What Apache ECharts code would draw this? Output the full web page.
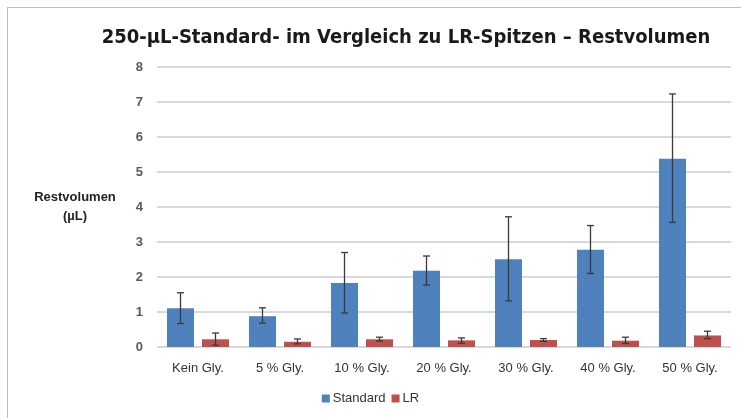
<!DOCTYPE html>
<html>
<head>
<meta charset="utf-8">
<script src="https://cdn.jsdelivr.net/npm/echarts@6/dist/echarts.min.js"></script>
<style>
  html, body { margin: 0; padding: 0; background: #fff; }
  #frame { position: absolute; left: 7px; top: 7px; width: 760px; height: 440px; border: 1px solid #bfbfbf; box-sizing: border-box; }
  #chart { position: absolute; left: 0; top: 0; width: 741px; height: 418px; }
</style>
</head>
<body>
<div id="frame"></div>
<div id="chart"></div>
<script>
// Kategorien und Werte
const categories = ['Kein Gly.', '5 % Gly.', '10 % Gly.', '20 % Gly.', '30 % Gly.', '40 % Gly.', '50 % Gly.'];
const standardVals = [1.11, 0.88, 1.83, 2.18, 2.51, 2.78, 5.38];
const standardLow = [0.67, 0.68, 0.97, 1.77, 1.32, 2.10, 3.56];
const standardHigh = [1.55, 1.12, 2.70, 2.60, 3.72, 3.47, 7.23];
const lrVals = [0.22, 0.15, 0.22, 0.19, 0.20, 0.18, 0.33];
const lrLow = [0.05, 0.09, 0.17, 0.11, 0.16, 0.10, 0.24];
const lrHigh = [0.40, 0.23, 0.28, 0.26, 0.24, 0.28, 0.45];

const BAR_W = 27, BAR_GAP = 8;

function errData(low, high) {
    let out = [];
    for (let i = 0; i < categories.length; i++) out.push([i, low[i], high[i]]);
    return out;
}

function errSeries(name, low, high, offset) {
    return {
        type: 'custom',
        name: name + '_err',
        silent: true,
        z: 5,
        data: errData(low, high),
        encode: { x: 0, y: [1, 2] },
        renderItem: function (params, api) {
            let lo = api.coord([api.value(0), api.value(1)]);
            let hi = api.coord([api.value(0), api.value(2)]);
            let x = lo[0] + offset;
            let cap = 3.5;
            let style = { stroke: '#3a3a3a', lineWidth: 1.3 };
            return {
                type: 'group',
                children: [
                    { type: 'line', shape: { x1: x, y1: lo[1], x2: x, y2: hi[1] }, style: style },
                    { type: 'line', shape: { x1: x - cap, y1: lo[1], x2: x + cap, y2: lo[1] }, style: style },
                    { type: 'line', shape: { x1: x - cap, y1: hi[1], x2: x + cap, y2: hi[1] }, style: style }
                ]
            };
        }
    };
}

let myChart = echarts.init(document.getElementById('chart'));
let off = (BAR_W + BAR_GAP) / 2;
let option = {
    animation: false,
    textStyle: { fontFamily: 'Liberation Sans' },
    title: {
        text: '250-µL-Standard- im Vergleich zu LR-Spitzen – Restvolumen',
        left: 401,
        top: 23,
        textAlign: 'center',
        textStyle: { fontFamily: '"DejaVu Sans Condensed", "Liberation Sans", sans-serif', fontWeight: 'bold', fontSize: 20, color: '#1a1a1a' }
    },
    legend: {
        bottom: 8,
        left: 'center',
        icon: 'rect',
        itemWidth: 8,
        itemHeight: 8,
        itemGap: 6,
        data: ['Standard', 'LR'],
        textStyle: { fontSize: 13, color: '#333', padding: [0, 0, 0, -2] }
    },
    grid: { left: 157, right: 10, top: 67, bottom: 71 },
    xAxis: {
        type: 'category',
        data: categories,
        axisLine: { show: false },
        axisTick: { show: false },
        axisLabel: { color: '#333', fontSize: 13, margin: 15 }
    },
    yAxis: {
        type: 'value',
        min: 0,
        max: 8,
        interval: 1,
        name: 'Restvolumen\n(µL)',
        nameLocation: 'middle',
        nameGap: 82,
        nameRotate: 0,
        nameTextStyle: { fontWeight: 'bold', fontSize: 13, color: '#222', lineHeight: 19, align: 'center', padding: [12, 0, 0, 0] },
        axisLabel: { color: '#595959', fontSize: 13, fontWeight: 'bold', margin: 14 },
        splitLine: { lineStyle: { color: '#d9d9d9', width: 2 } }
    },
    series: [
        {
            type: 'bar',
            name: 'Standard',
            data: standardVals,
            barWidth: BAR_W,
            barGap: (BAR_GAP / BAR_W * 100) + '%',
            itemStyle: { color: '#4f81bd' }
        },
        {
            type: 'bar',
            name: 'LR',
            data: lrVals,
            barWidth: BAR_W,
            itemStyle: { color: '#c0504d' }
        },
        errSeries('Standard', standardLow, standardHigh, -off),
        errSeries('LR', lrLow, lrHigh, off)
    ]
};
myChart.setOption(option);
</script>
</body>
</html>
